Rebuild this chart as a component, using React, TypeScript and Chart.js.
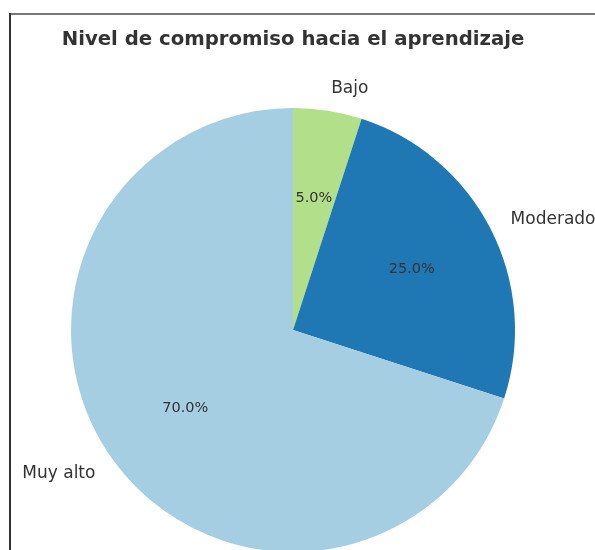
import React, { useEffect, useRef } from "react";
import { Chart, registerables } from "chart.js";

Chart.register(...registerables);

const categories = ["Bajo", "Moderado", "Muy alto"];
const values = [5, 25, 70];
const colors = ["#b2df8a", "#1f78b4", "#a6cee3"];
const titleText = "Nivel de compromiso hacia el aprendizaje";

const FONT = "'DejaVu Sans', 'Liberation Sans', sans-serif";

const labelsPlugin = {
  id: "pieLabels",
  beforeDraw(chart: any) {
    const ctx = chart.ctx;
    ctx.save();
    ctx.fillStyle = "#ffffff";
    ctx.fillRect(0, 0, chart.width, chart.height);
    ctx.lineWidth = 2;
    ctx.strokeStyle = "#777777";
    ctx.beginPath();
    ctx.moveTo(10, 14);
    ctx.lineTo(chart.width, 14);
    ctx.stroke();
    ctx.strokeStyle = "#333333";
    ctx.beginPath();
    ctx.moveTo(10, 13);
    ctx.lineTo(10, chart.height);
    ctx.stroke();
    ctx.restore();
  },
  afterDatasetsDraw(chart: any) {
    const ctx = chart.ctx;
    const meta = chart.getDatasetMeta(0);
    const total = values.reduce((a, b) => a + b, 0);
    ctx.save();
    meta.data.forEach((arc: any, i: number) => {
      const mid = (arc.startAngle + arc.endAngle) / 2;
      const r = arc.outerRadius;
      const cx = arc.x;
      const cy = arc.y;
      // outer label
      const lx = cx + Math.cos(mid) * r * 1.1;
      const ly = cy + Math.sin(mid) * r * 1.1;
      ctx.font = `17px ${FONT}`;
      ctx.fillStyle = "#333333";
      ctx.textBaseline = "middle";
      ctx.textAlign = lx > cx ? "left" : "right";
      ctx.fillText(categories[i], lx, ly);
      // percentage
      const px = cx + Math.cos(mid) * r * 0.6;
      const py = cy + Math.sin(mid) * r * 0.6;
      ctx.font = `14.5px ${FONT}`;
      ctx.textAlign = "center";
      ctx.fillText(((values[i] / total) * 100).toFixed(1) + "%", px, py);
    });
    ctx.restore();
  },
};

export default function App() {
  const ref = useRef<HTMLCanvasElement | null>(null);
  useEffect(() => {
    if (!ref.current) return;
    const chart = new Chart(ref.current, {
      type: "pie",
      data: {
        labels: categories,
        datasets: [
          {
            data: values,
            backgroundColor: colors,
            borderWidth: 0,
          },
        ],
      },
      options: {
        responsive: false,
        animation: false,
        devicePixelRatio: 1,
        layout: { padding: { left: 0, right: 9, top: 0, bottom: 48 } },
        plugins: {
          legend: { display: false },
          tooltip: { enabled: false },
          title: {
            display: true,
            text: titleText,
            color: "#333333",
            font: { family: FONT, size: 19.7, weight: "bold" },
            padding: { top: 28.2, bottom: 56.16 },
          },
        },
      },
      plugins: [labelsPlugin],
    });
    return () => chart.destroy();
  }, []);
  return (
    <div
      style={{
        position: "absolute",
        left: 0,
        top: 0,
        width: 595,
        height: 550,
        overflow: "hidden",
        background: "#fff",
      }}
    >
      <canvas ref={ref} width={595} height={600} style={{ display: "block" }} />
    </div>
  );
}
